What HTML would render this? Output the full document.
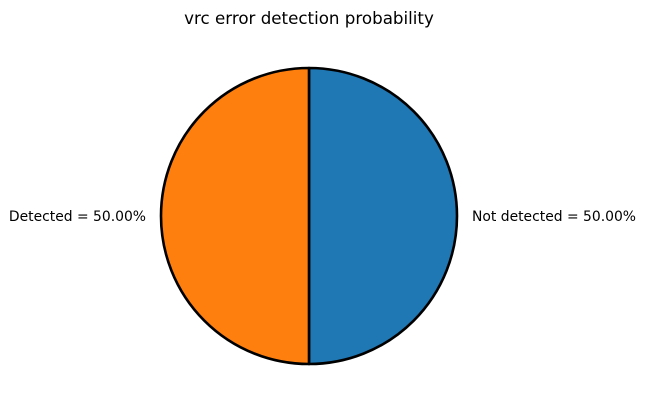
<!DOCTYPE html>
<html><head><meta charset="utf-8"><style>
body{margin:0;background:#fff;}
svg{display:block;font-family:"DejaVu Sans","Liberation Sans",sans-serif;}
</style></head><body>
<svg id="chart" width="645" height="411">
<text x="309" y="24" text-anchor="middle" font-size="16.7" fill="#000">vrc error detection probability</text>
<g id="slices"></g>
</svg>
<script>
const categories = ["Not detected", "Detected"];
const values = [50, 50];
const colors = ["#1f77b4", "#ff7f0e"];
const cx = 309, cy = 216, r = 148;
const g = document.getElementById('slices');
const ns = 'http://www.w3.org/2000/svg';
const total = values.reduce((a,b)=>a+b,0);
let ang = 90;
values.forEach((v,i)=>{
  const sweep = v/total*360;
  const a0 = ang*Math.PI/180, a1 = (ang - sweep)*Math.PI/180;
  const x0 = cx + r*Math.cos(a0), y0 = cy - r*Math.sin(a0);
  const x1 = cx + r*Math.cos(a1), y1 = cy - r*Math.sin(a1);
  const large = sweep > 180 ? 1 : 0;
  const p = document.createElementNS(ns,'path');
  p.setAttribute('d', `M${cx},${cy} L${x0},${y0} A${r},${r} 0 ${large} 1 ${x1},${y1} Z`);
  p.setAttribute('fill', colors[i]);
  p.setAttribute('stroke', '#000');
  p.setAttribute('stroke-width', '2.6');
  p.setAttribute('stroke-linejoin', 'round');
  
  
  g.appendChild(p);
  const mid = (ang - sweep/2)*Math.PI/180;
  const lx = cx + (r+15)*Math.cos(mid), ly = cy - (r+15)*Math.sin(mid);
  const t = document.createElementNS(ns,'text');
  t.setAttribute('x', lx);
  t.setAttribute('y', ly + 5);
  t.setAttribute('font-size', '13.9');
  t.setAttribute('text-anchor', Math.cos(mid) >= 0 ? 'start' : 'end');
  t.textContent = categories[i] + ' = ' + (v/total*100).toFixed(2) + '%';
  
  
  g.appendChild(t);
  ang -= sweep;
});
</script>
</body></html>
